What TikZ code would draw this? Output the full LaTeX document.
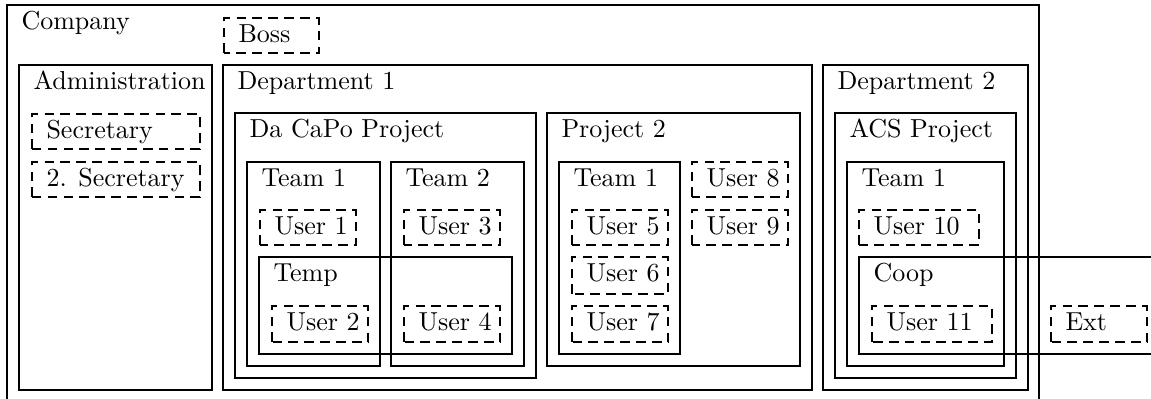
\documentclass[tikz,border=0pt]{standalone}
\tikzset{
  frame/.style={draw, line width=1.1pt},
  dframe/.style={draw, line width=1.1pt, dash pattern=on 3.7pt off 2.4pt},
  lab/.style={anchor=base west, inner sep=0pt, font=\normalsize},
}
\newcommand\solidbx[6]{\draw[frame] (#2,#3) rectangle (#4,#5);
  \node[lab] (#1) at ({#2+14},{#3+24}) {#6};}
\newcommand\dashbx[6]{\draw[dframe] (#2,#5) rectangle (#4,#3);
  \node[lab] (#1) at ({#2+14},{#3+24}) {#6};}
\begin{document}
\begin{tikzpicture}[x=0.3846pt, y=-0.3846pt]
\useasboundingbox (0,0) rectangle (1151,398);
\clip (0,0) rectangle (1151,398);
% company
\solidbx{company}{7}{5}{1039}{430}{Company}
\dashbx{boss}{224}{18}{319}{53}{Boss}
% administration
\solidbx{admin}{19}{65}{212}{390}{Administration}
\dashbx{sec}{32}{114}{200}{149}{Secretary}
\dashbx{sec2}{32}{162}{200}{197}{2. Secretary}
% department 1
\solidbx{dep1}{223}{65}{812}{390}{Department 1}
\solidbx{dacapo}{235}{113}{536}{378}{Da CaPo Project}
\solidbx{dteam1}{247}{162}{380}{366}{Team 1}
\solidbx{dteam2}{391}{162}{524}{366}{Team 2}
\dashbx{u1}{260}{210}{356}{245}{User 1}
\dashbx{u3}{404}{210}{500}{245}{User 3}
\solidbx{temp}{259}{257}{512}{354}{Temp}
\dashbx{u2}{272}{306}{368}{342}{User 2}
\dashbx{u4}{404}{306}{500}{342}{User 4}
\solidbx{proj2}{547}{113}{800}{366}{Project 2}
\solidbx{pteam1}{559}{162}{680}{354}{Team 1}
\dashbx{u5}{572}{210}{668}{245}{User 5}
\dashbx{u6}{572}{257}{668}{294}{User 6}
\dashbx{u7}{572}{306}{668}{342}{User 7}
\dashbx{u8}{692}{162}{788}{197}{User 8}
\dashbx{u9}{692}{210}{788}{245}{User 9}
% department 2
\solidbx{dep2}{823}{65}{1028}{390}{Department 2}
\solidbx{acs}{835}{113}{1016}{378}{ACS Project}
\solidbx{ateam1}{847}{162}{1004}{366}{Team 1}
\dashbx{u10}{859}{210}{979}{245}{User 10}
\solidbx{coop}{859}{257}{1175}{354}{Coop}
\dashbx{u11}{872}{306}{992}{342}{User 11}
\dashbx{ext}{1051}{306}{1147}{342}{Ext}
\end{tikzpicture}
\end{document}
